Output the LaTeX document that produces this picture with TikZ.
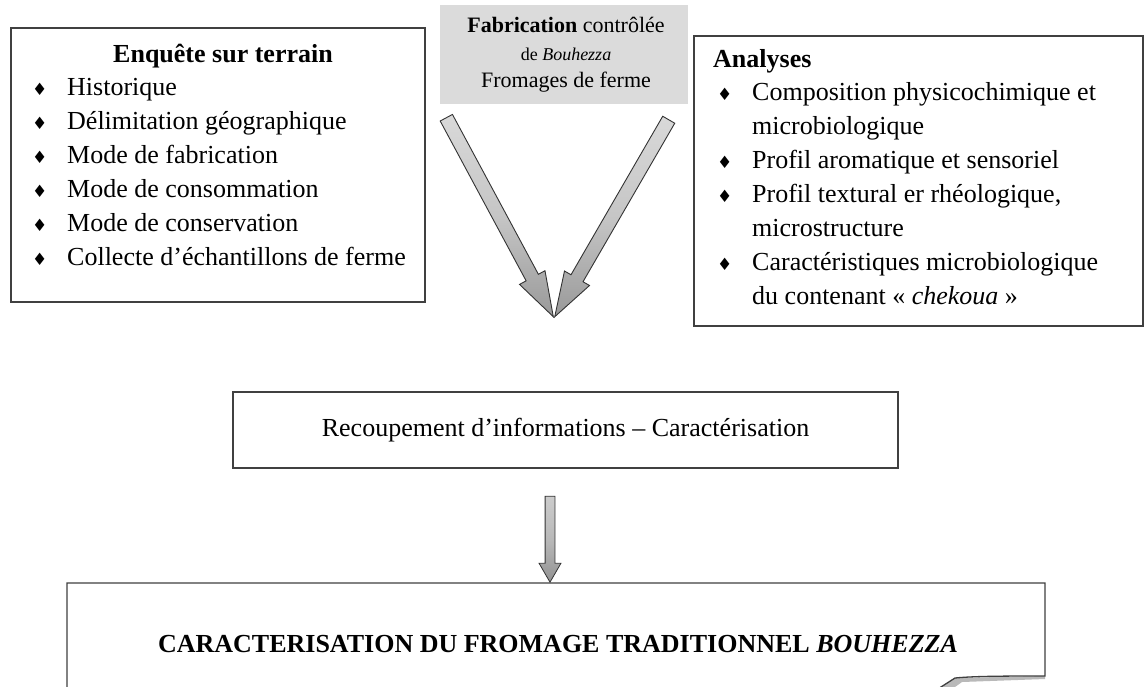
\documentclass[tikz,border=0pt]{standalone}
\usepackage{fontspec}
\setmainfont{Liberation Serif}
\newfontfamily\symfont{DejaVu Sans}
\usetikzlibrary{fit,shapes.arrows,calc}

% diamond bullet used in the lists
\newcommand\bul{{\symfont\fontsize{17}{17}\selectfont ♦}}

\tikzset{
  frame/.style={draw=black!75, line width=1.3pt},
  boxnode/.style={frame, inner sep=0pt, fill=white},
  listtext/.style={anchor=base west, inner sep=0pt, font=\fontsize{26}{34}\selectfont},
  bigarrow/.style={single arrow, draw=black!80, line width=0.9pt,
    inner xsep=0pt, inner ysep=6.5pt, minimum width=0pt,
    single arrow head extend=7.5pt, single arrow tip angle=36,
    top color=gray!30, bottom color=gray!80, middle color=gray!45},
  smallarrow/.style={single arrow, draw=black!80, line width=0.8pt,
    inner xsep=0pt, inner ysep=4.5pt, minimum width=0pt,
    single arrow head extend=6pt, single arrow tip angle=60,
    top color=gray!40, bottom color=gray!85, middle color=gray!55}
}

\begin{document}
\begin{tikzpicture}[x=1pt, y=-1pt]
\useasboundingbox[fill=white] (0,0) rectangle (1147,686);

% ---- source: controlled manufacture and farm cheeses
\node[fill=black!14, inner sep=0pt, fit={(440,5) (688,104)}] (source) {};
\node[anchor=base, inner sep=0pt, font=\fontsize{22}{22}\selectfont] (srcA) at (566,32)
  {\textbf{Fabrication} contrôlée};
\node[anchor=base, inner sep=0pt, font=\fontsize{18}{18}\selectfont] (srcB) at (566,60)
  {de \textit{Bouhezza}};
\node[anchor=base, inner sep=0pt, font=\fontsize{22}{22}\selectfont] (srcC) at (566,87)
  {Fromages de ferme};

% ---- field survey
\node[boxnode, fit={(11,28) (425,302)}] (survey) {};
\node[anchor=base, inner sep=0pt, font=\fontsize{26}{26}\selectfont\bfseries] (surveytitle)
  at (223,62) {Enquête sur terrain};
\node[listtext] (surveylist) at (32,95) {%
  \begin{tabular}[t]{@{}p{35pt}@{}l@{}}
  \bul & Historique\\
  \bul & Délimitation géographique\\
  \bul & Mode de fabrication\\
  \bul & Mode de consommation\\
  \bul & Mode de conservation\\
  \bul & Collecte d’échantillons de ferme
  \end{tabular}};

% ---- laboratory analyses
\node[boxnode, fit={(694,36) (1143,326)}] (analyses) {};
\node[anchor=base west, inner sep=0pt, font=\fontsize{26}{26}\selectfont\bfseries] (analysestitle)
  at (713,67) {Analyses};
\node[listtext] (analyseslist) at (717,100) {%
  \begin{tabular}[t]{@{}p{35pt}@{}l@{}}
  \bul & Composition physicochimique et\\
       & microbiologique\\
  \bul & Profil aromatique et sensoriel\\
  \bul & Profil textural er rhéologique,\\
       & microstructure\\
  \bul & Caractéristiques microbiologique\\
       & du contenant « \textit{chekoua} »
  \end{tabular}};

% ---- two converging arrows, tips meeting at one point
\coordinate (tailL) at (447,119);
\coordinate (tailR) at (668,121);
\coordinate (meet) at (554,318);
\path let \p1=($(meet)-(tailL)$) in
  node[bigarrow, anchor=tip, minimum height={veclen(\x1,\y1)}, rotate={atan2(\y1,\x1)}]
  (arrowL) at (meet) {};
\path let \p1=($(meet)-(tailR)$) in
  node[bigarrow, anchor=tip, minimum height={veclen(\x1,\y1)}, rotate={atan2(\y1,\x1)}]
  (arrowR) at (meet) {};

% ---- cross-checking
\node[boxnode, line width=1.6pt, fit={(233,392) (898,468)}] (crosscheck) {};
\node[inner sep=0pt, font=\fontsize{26}{26}\selectfont] (crosstext) at (crosscheck.center)
  {Recoupement d’informations – Caractérisation};

% ---- result box with folded lower edge
\coordinate (resNW) at (67,583);
\coordinate (resNE) at (1045,583);
\coordinate (resSE) at (1045,676);
\fill[gray!55] (resSE) -- (955,678) -- (932,692) -- (948,692) -- (962,682) -- (1045,679) -- cycle;
\draw[frame] (67,700) -- (resNW) -- (resNE) -- (resSE)
  .. controls (1010,676) and (975,676) .. (955,678) -- (930,694);
\node[anchor=base, inner sep=0pt, font=\fontsize{26}{26}\selectfont\bfseries] (resulttext)
  at (558,652) {CARACTERISATION DU FROMAGE TRADITIONNEL \textit{BOUHEZZA}};

% ---- arrow into the result
\coordinate (downtail) at (550,497);
\coordinate (downtip) at (downtail |- resNW);
\path let \p1=($(downtip)-(downtail)$) in
  node[smallarrow, anchor=tip, minimum height={veclen(\x1,\y1)}, rotate=-90]
  (arrowD) at (downtip) {};
\end{tikzpicture}
\end{document}
